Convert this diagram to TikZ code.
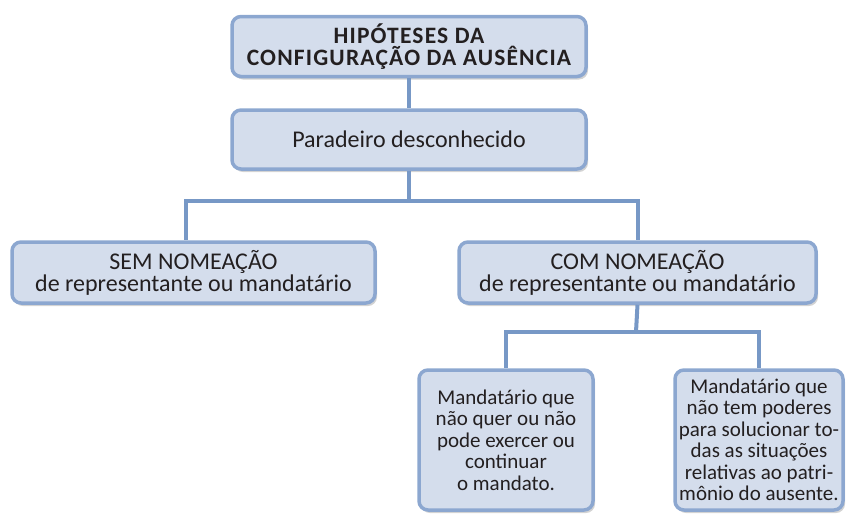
\documentclass[tikz,border=0pt]{standalone}
\usepackage{fontspec}
\setmainfont{Carlito}
\usetikzlibrary{shadows}

\definecolor{boxfill}{HTML}{D4DDEC}
\definecolor{boxline}{HTML}{8CA7D0}
\definecolor{linkline}{HTML}{7798C6}
\definecolor{ink}{HTML}{231F20}

\tikzset{
    caixa/.style={draw=boxline, fill=boxfill, line width=3.5pt, rounded corners=9pt,
        text=ink, align=center, inner sep=1pt,
        drop shadow={opacity=0.35, shadow xshift=2pt, shadow yshift=-3pt}},
    grande/.style={caixa, font=\fontsize{24}{22}\selectfont},
    pequena/.style={caixa, font=\fontsize{21}{21.5}\selectfont},
    liga/.style={draw=linkline, line width=4pt}
}

\begin{document}
\begin{tikzpicture}[x=1pt, y=-1pt]
    \useasboundingbox (0,0) rectangle (847,515);
    % ligacoes
    \coordinate (j1) at (409,201);
    \coordinate (j2) at (636,332);
    \node[grande, minimum width=354, minimum height=60,
        font=\fontsize{23.5}{22}\selectfont\bfseries\addfontfeatures{LetterSpace=5}] (hip) at (409,46.5)
        {HIPÓTESES DA\\ CONFIGURAÇÃO DA AUSÊNCIA};
    \node[grande, minimum width=354, minimum height=59] (par) at (409,139.5)
        {Paradeiro desconhecido};
    \node[grande, minimum width=363, minimum height=61] (sem) at (193.5,272.5)
        {SEM NOMEAÇÃO\\ de representante ou mandatário};
    \node[grande, minimum width=357, minimum height=61] (com) at (637.5,272.5)
        {COM NOMEAÇÃO\\ de representante ou mandatário};
    \node[pequena, minimum width=174, minimum height=140] (quer) at (506,440)
        {Mandatário que\\ não quer ou não\\ pode exercer ou\\ continuar\\ o mandato.};
    \node[pequena, minimum width=168, minimum height=140] (poder) at (759,440)
        {Mandatário que\\ não tem poderes\\ para solucionar to-\\ das as situações\\ relativas ao patri-\\ mônio do ausente.};
    \begin{scope}[liga]
        \draw (hip.south) -- (par.north);
        \draw (par.south) -- (j1);
        \draw (j1) -| ([xshift=-8pt]sem.north);
        \draw (j1) -| (com.north);
        \draw (com.south) -- (j2);
        \draw (j2) -| (quer.north);
        \draw (j2) -| (poder.north);
    \end{scope}
\end{tikzpicture}
\end{document}
